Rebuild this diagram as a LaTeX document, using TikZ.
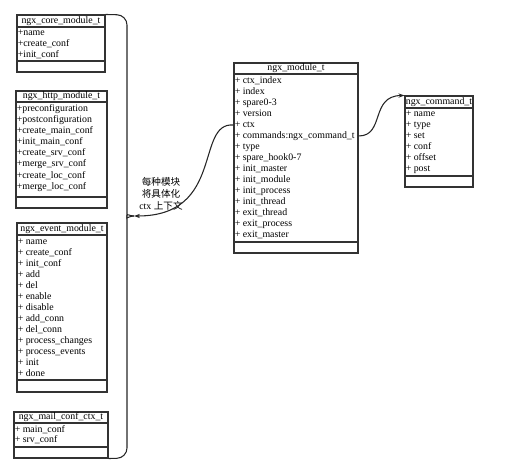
\documentclass[tikz,border=0pt]{standalone}
\usepackage{fontspec}
\setmainfont{Liberation Serif}
\newfontfamily\cjk{Noto Sans CJK SC}
\usetikzlibrary{fit,arrows.meta}
\tikzset{
  box/.style={draw=black!80, line width=0.8pt, inner sep=0pt},
  sep/.style={draw=black!80, line width=0.8pt},
  row/.style={font=\fontsize{7.4}{8}\selectfont, inner sep=0pt, text height=5pt, text depth=1.5pt, anchor=west},
  ttl/.style={font=\fontsize{7.4}{8}\selectfont, inner sep=0pt, text height=5pt, text depth=1.5pt},
  conn/.style={line width=0.8pt, draw=black!85},
  tip/.style={-{Stealth[length=4.5pt,width=3.2pt]}}
}
\begin{document}
\begin{tikzpicture}[x=0.75pt,y=-0.75pt]
\useasboundingbox (0,0) rectangle (515,468);
% ngx_core_module_t
\node[box, fit={(17,15)(105,72)}] (core) {};
\node[ttl] (core-t) at (61,21) {ngx\_core\_module\_t};
\draw[sep] (17,27) -- (105,27);
\draw[sep] (17,61) -- (105,61);
\foreach \lbl [count=\i] in {+name,+create\_conf,+init\_conf}
  \node[row] (core-\i) at (17.5,22+11*\i) {\lbl};
% ngx_http_module_t
\node[box, fit={(16,91)(107,208)}] (http) {};
\node[ttl] (http-t) at (61.5,96.5) {ngx\_http\_module\_t};
\draw[sep] (16,102) -- (107,102);
\draw[sep] (16,197) -- (107,197);
\foreach \lbl [count=\i] in {+preconfiguration,+postconfiguration,+create\_main\_conf,+init\_main\_conf,+create\_srv\_conf,+merge\_srv\_conf,+create\_loc\_conf,+merge\_loc\_conf}
  \node[row] (http-\i) at (16.5,98+11.1*\i) {\lbl};
% ngx_event_module_t
\node[box, fit={(17,223)(107,392)}] (event) {};
\node[ttl] (event-t) at (62,229) {ngx\_event\_module\_t};
\draw[sep] (17,235) -- (107,235);
\draw[sep] (17,380) -- (107,380);
\foreach \lbl [count=\i] in {+ name,+ create\_conf,+ init\_conf,+ add,+ del,+ enable,+ disable,+ add\_conn,+ del\_conn,+ process\_changes,+ process\_events,+ init,+ done}
  \node[row] (event-\i) at (17.5,231+11*\i) {\lbl};
% ngx_mail_conf_ctx_t
\node[box, fit={(14,412)(108,458)}] (mail) {};
\node[ttl] (mail-t) at (61,417.5) {ngx\_mail\_conf\_ctx\_t};
\draw[sep] (14,423) -- (108,423);
\draw[sep] (14,447) -- (108,447);
\foreach \lbl [count=\i] in {+ main\_conf,+ srv\_conf}
  \node[row] (mail-\i) at (14.5,419.5+10.5*\i) {\lbl};
% ngx_module_t
\node[box, fit={(234,63)(358,253)}] (mod) {};
\node[ttl] (mod-t) at (296,68.5) {ngx\_module\_t};
\draw[sep] (234,74) -- (358,74);
\draw[sep] (234,242) -- (358,242);
\foreach \lbl [count=\i] in {+ ctx\_index,+ index,+ spare0-3,+ version,+ ctx,+ commands:ngx\_command\_t,+ type,+ spare\_hook0-7,+ init\_master,+ init\_module,+ init\_process,+ init\_thread,+ exit\_thread,+ exit\_process,+ exit\_master}
  \node[row] (mod-\i) at (234.5,70+11*\i) {\lbl};
% ngx_command_t
\node[box, fit={(405,96)(473,187)}] (cmd) {};
\node[ttl] (cmd-t) at (439,102) {ngx\_command\_t};
\draw[sep] (405,108) -- (473,108);
\draw[sep] (405,176) -- (473,176);
\foreach \lbl [count=\i] in {+ name,+ type,+ set,+ conf,+ offset,+ post}
  \node[row] (cmd-\i) at (405.5,103+11*\i) {\lbl};
% label
\node[font=\fontsize{7.4}{9.2}\selectfont, align=center, inner sep=0pt] (lbl) at (161,194)
  {{\cjk\fontsize{7.2}{9.2}\selectfont 每种模块}\\{\cjk\fontsize{7.2}{9.2}\selectfont 将具体化}\\ctx {\cjk\fontsize{7.2}{9.2}\selectfont 上下文}};
% bracket
\coordinate (J) at (134,216);
\draw[conn, rounded corners=7.5pt] (core.north east) -- (127,15) -- (127,206) .. controls (127,213) and (129,216) .. (J);
\draw[conn, rounded corners=7.5pt] (mail.south east) -- (127,458) -- (127,227) .. controls (127,219) and (129,216) .. (J);
% ctx arrow
\draw[conn, tip] (mod.west |- mod-5.center) .. controls (195,122) and (225,216) .. (J);
% commands arrow
\draw[conn, tip] (mod.east |- mod-6.center) .. controls (385,136) and (370,96) .. (cmd.north west);
\end{tikzpicture}
\end{document}
